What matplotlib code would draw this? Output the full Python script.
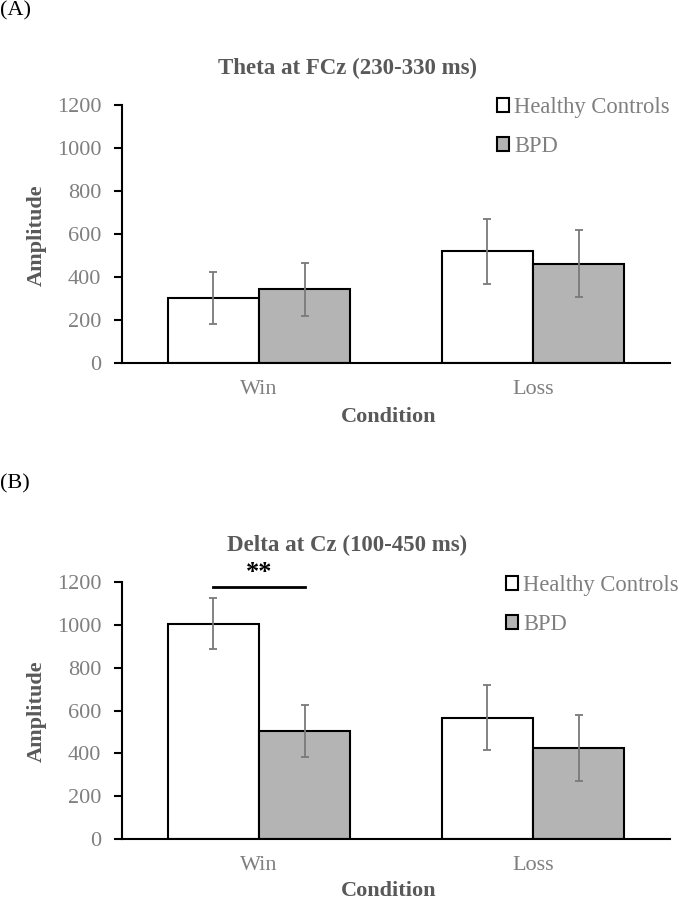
import matplotlib
matplotlib.use("Agg")
import matplotlib.pyplot as plt
from matplotlib.patches import Patch
import numpy as np

plt.rcParams['font.family'] = ['Liberation Serif', 'DejaVu Serif']

conditions = ["Win", "Loss"]
groups = ["Healthy Controls", "BPD"]

theta_hc = [303, 519]
theta_hc_err = [120, 151]
theta_bpd = [342, 462]
theta_bpd_err = [123, 155]

delta_hc = [1006, 567]
delta_hc_err = [119, 150]
delta_bpd = [504, 425]
delta_bpd_err = [122, 155]

yticks = [0, 200, 400, 600, 800, 1000, 1200]

W, H = 679, 900
GRAY_TXT = '#595959'
TICK_TXT = '#7f7f7f'
BPD_FILL = '#b4b4b4'
ERR_COL = '#7a7a7a'


def fx(px):
    return px / W


def fy(py):
    return 1 - py / H


def draw_panel(ax, hc, hc_err, bpd, bpd_err):
    x = np.arange(len(conditions))
    bw = 0.333
    ekw = dict(ecolor=ERR_COL, elinewidth=1.3, capsize=3, capthick=1.3)
    ax.bar(x - bw / 2, hc, bw, color='white', edgecolor='black', linewidth=1.5,
           yerr=hc_err, error_kw=ekw, zorder=2)
    ax.bar(x + bw / 2, bpd, bw, color=BPD_FILL, edgecolor='black', linewidth=1.5,
           yerr=bpd_err, error_kw=ekw, zorder=2)
    ax.set_xlim(-0.5, 1.5)
    ax.set_ylim(0, 1200)
    ax.set_yticks(yticks)
    ax.set_xticks(x)
    ax.set_xticklabels(conditions)
    for s in ['top', 'right']:
        ax.spines[s].set_visible(False)
    for s in ['left', 'bottom']:
        ax.spines[s].set_linewidth(1.5)
    ax.tick_params(axis='y', direction='out', length=6, width=1.5, pad=9,
                   labelsize=16, labelcolor=TICK_TXT)
    ax.tick_params(axis='x', length=0, pad=12, labelsize=16, labelcolor=TICK_TXT)
    return x, bw


fig = plt.figure(figsize=(W / 100, H / 100), dpi=100)

# panel A
ax1 = fig.add_axes([fx(122), fy(363), fx(670 - 122), (363 - 105) / H])
draw_panel(ax1, theta_hc, theta_hc_err, theta_bpd, theta_bpd_err)
fig.text(fx(0), fy(1), "(A)", fontsize=16, ha='left', va='top')
fig.text(fx(348), fy(68), "Theta at FCz (230-330 ms)", fontsize=16.5, fontweight='bold',
         color=GRAY_TXT, ha='center', va='center')
fig.text(fx(37), fy(235), "Amplitude", fontsize=16, fontweight='bold', color=GRAY_TXT,
         rotation=90, ha='center', va='center')
fig.text(fx(389), fy(417), "Condition", fontsize=16, fontweight='bold', color=GRAY_TXT,
         ha='center', va='center')

handles = [Patch(facecolor='white', edgecolor='black', linewidth=1.5),
           Patch(facecolor=BPD_FILL, edgecolor='black', linewidth=1.5)]
leg_kw = dict(frameon=False, fontsize=16.3, labelcolor=TICK_TXT, handlelength=0.55,
              handleheight=0.55, handletextpad=0.2, labelspacing=0.8, borderpad=0,
              borderaxespad=0, loc='center left', bbox_transform=fig.transFigure)
ax1.legend(handles, groups, bbox_to_anchor=(fx(497), fy(127)), **leg_kw)

# panel B
ax2 = fig.add_axes([fx(122), fy(839), fx(670 - 122), (839 - 582) / H])
x, bw = draw_panel(ax2, delta_hc, delta_hc_err, delta_bpd, delta_bpd_err)
fig.text(fx(0), fy(474), "(B)", fontsize=16, ha='left', va='top')
fig.text(fx(347), fy(545), "Delta at Cz (100-450 ms)", fontsize=16.5, fontweight='bold',
         color=GRAY_TXT, ha='center', va='center')
fig.text(fx(37), fy(711), "Amplitude", fontsize=16, fontweight='bold', color=GRAY_TXT,
         rotation=90, ha='center', va='center')
fig.text(fx(389), fy(891), "Condition", fontsize=16, fontweight='bold', color=GRAY_TXT,
         ha='center', va='center')
ax2.legend(handles, groups, bbox_to_anchor=(fx(506), fy(605)), **leg_kw)

# significance marker on Win
ax2.plot([x[0] - bw / 2, x[0] + bw / 2], [1175, 1175], color='black', lw=2,
         clip_on=False, zorder=3)
ax2.text(x[0], 1245, "**", fontsize=19, fontweight='bold', ha='center', va='center',
         clip_on=False)

fig.savefig("out.png", dpi=100)
